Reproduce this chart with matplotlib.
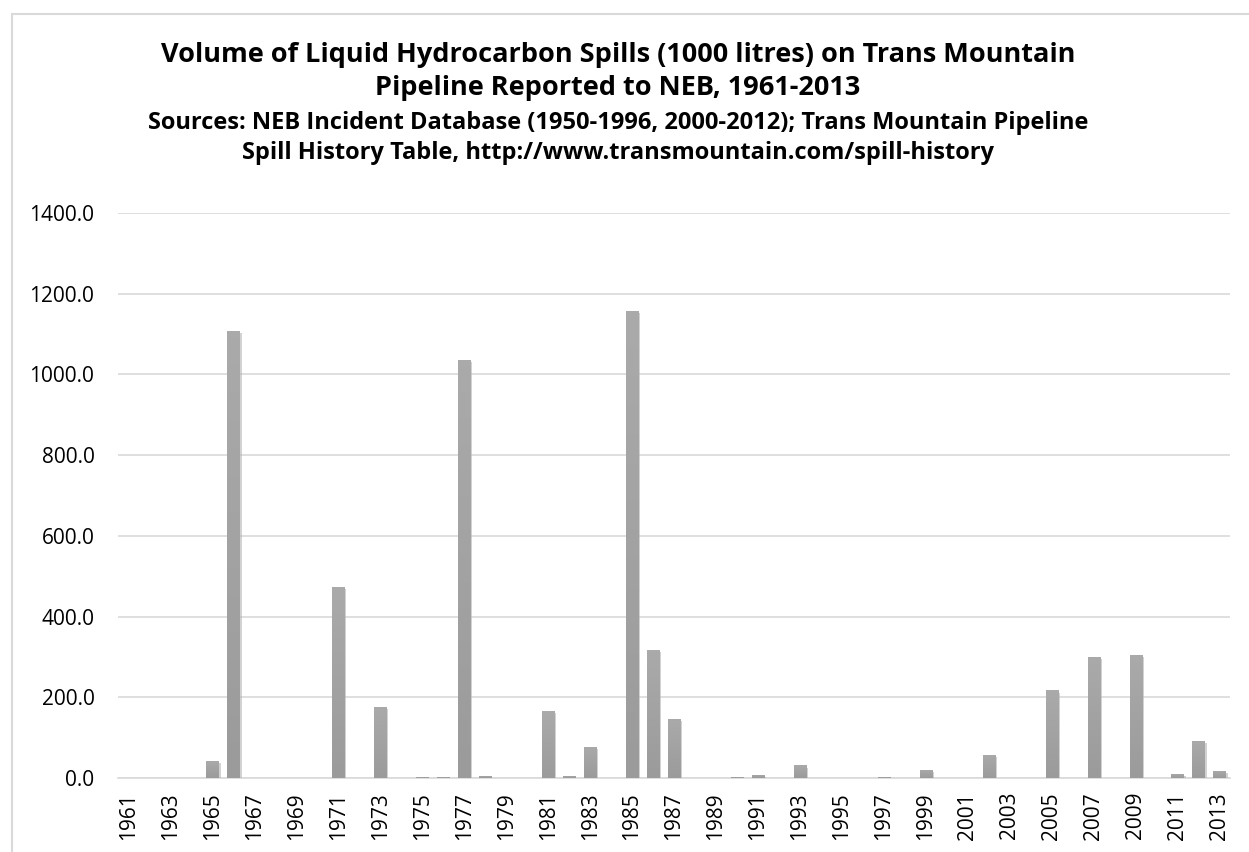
import matplotlib
matplotlib.use('Agg')
import matplotlib.pyplot as plt
import matplotlib.patheffects as pe
from matplotlib.patches import Rectangle
import numpy as np

years = list(range(1961, 2014))
# volume in 1000 litres (0 where no bar is visible)
spill = {
    1965: 43, 1966: 1108, 1971: 473, 1973: 177, 1975: 3, 1976: 3,
    1977: 1036, 1978: 6, 1981: 166, 1982: 6, 1983: 78, 1985: 1158,
    1986: 317, 1987: 146, 1990: 3, 1991: 8, 1993: 31, 1997: 3,
    1999: 21, 2002: 58, 2005: 217, 2007: 301, 2009: 306, 2011: 11,
    2012: 91, 2013: 18,
}
values = [spill.get(y, 0) for y in years]
tick_labels = [str(y) if y % 2 == 1 else '' for y in years]

plt.rcParams['font.family'] = ['Open Sans', 'DejaVu Sans']

fig = plt.figure(figsize=(12.49, 8.52), dpi=100)
ax = fig.add_axes([118/1249, 1-778/852, (1230-118)/1249, (778-213)/852])

x = list(range(len(years)))
bars = ax.bar(x, values, width=0.58, color='#a6a6a6', zorder=3)
# light gradient inside each bar, a bit darker toward the axis
grad = np.linspace(0, 1, 64).reshape(-1, 1)
cm = matplotlib.colors.LinearSegmentedColormap.from_list('g', ['#9b9b9b', '#aaaaaa'])
for b in bars:
    h = b.get_height()
    if h <= 0:
        continue
    b.set_path_effects([pe.SimplePatchShadow(offset=(1.5, -1.5), shadow_rgbFace='#b5b5b5', alpha=0.6), pe.Normal()])
    im = ax.imshow(grad, extent=[b.get_x(), b.get_x() + b.get_width(), 0, h], origin='lower',
                   cmap=cm, aspect='auto', zorder=4)
    im.set_clip_path(b)

ax.set_xlim(-0.5, len(years) - 0.5)
ax.set_ylim(0, 1400)
ax.set_yticks(range(0, 1401, 200))
ax.set_yticklabels(['%.1f' % v for v in range(0, 1401, 200)], fontsize=15)
ax.set_xticks(x)
ax.set_xticklabels(tick_labels, rotation=90, fontsize=15)
ax.tick_params(axis='x', length=0, pad=10)
ax.tick_params(axis='y', length=0, pad=17)
ax.grid(axis='y', color='#d9d9d9', linewidth=1.2, zorder=0)
for s in ['top', 'right', 'left']:
    ax.spines[s].set_visible(False)
ax.spines['bottom'].set_color('#d9d9d9')
ax.spines['bottom'].set_linewidth(1.2)
ax.spines['bottom'].set_zorder(1)

cx = 618/1249
fig.text(cx, 1-55/852, 'Volume of Liquid Hydrocarbon Spills (1000 litres) on Trans Mountain',
         ha='center', va='center', fontsize=19.5, fontweight='bold')
fig.text(cx, 1-88/852, 'Pipeline Reported to NEB, 1961-2013',
         ha='center', va='center', fontsize=19.5, fontweight='bold')
fig.text(cx, 1-123/852, 'Sources: NEB Incident Database (1950-1996, 2000-2012); Trans Mountain Pipeline',
         ha='center', va='center', fontsize=17, fontweight='bold')
fig.text(cx, 1-153/852, 'Spill History Table, http://www.transmountain.com/spill-history',
         ha='center', va='center', fontsize=17, fontweight='bold')

fig.patches.append(Rectangle((12/1249, -0.1), 1.2, 1-14/852 + 0.1, transform=fig.transFigure,
                             fill=False, edgecolor='#d9d9d9', linewidth=1.5))

fig.savefig('out.png', dpi=100)
